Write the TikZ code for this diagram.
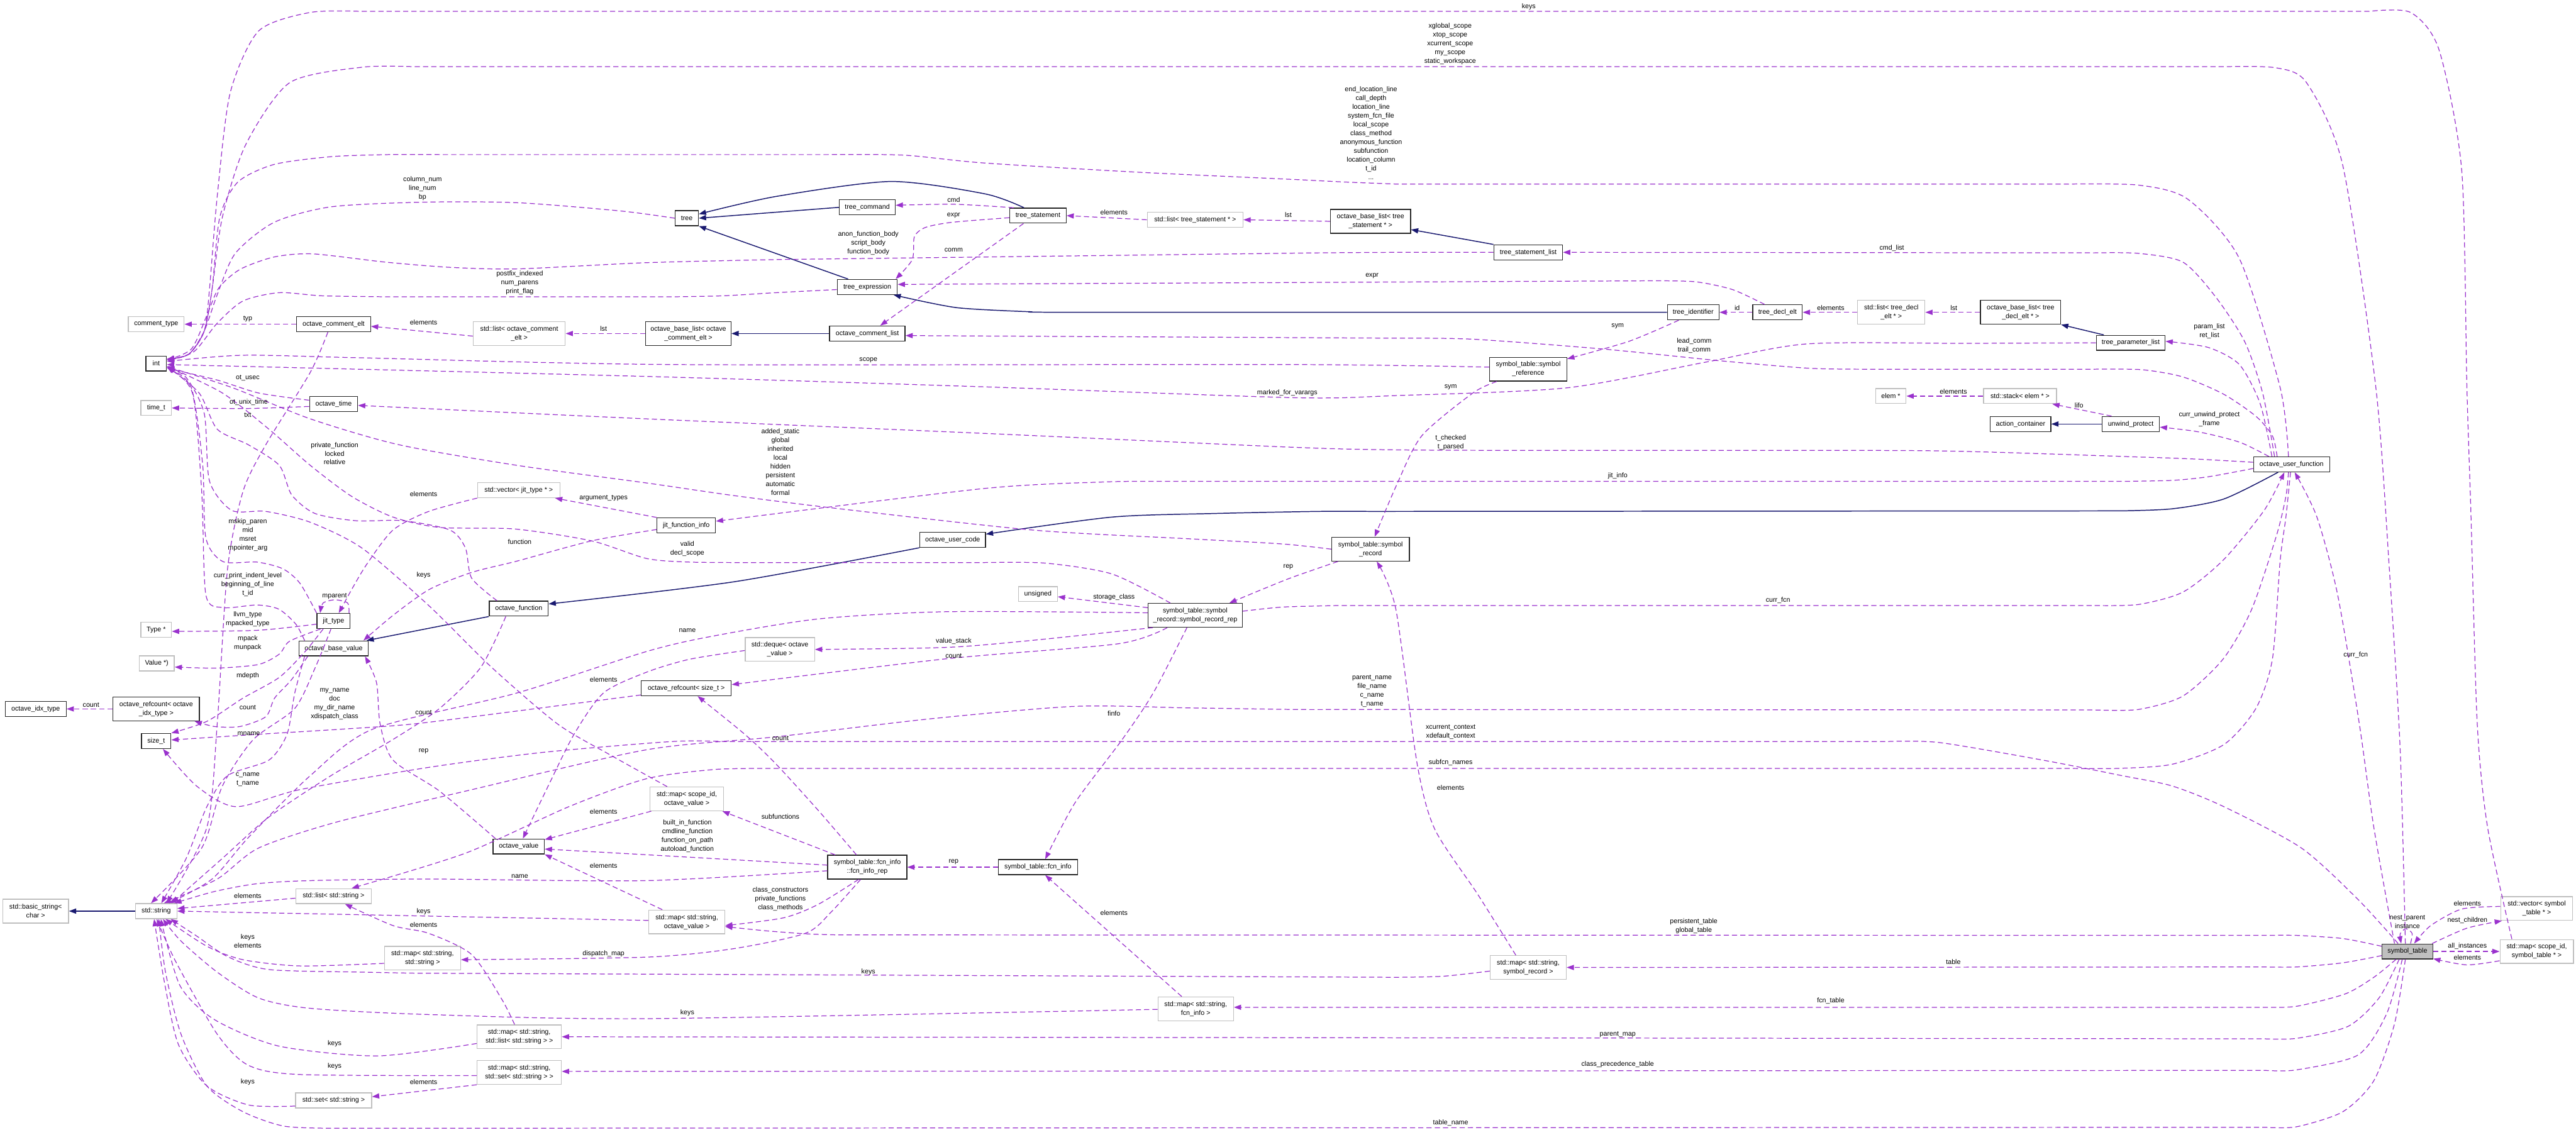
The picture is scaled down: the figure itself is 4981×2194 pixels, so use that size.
\documentclass[tikz,border=0pt]{standalone}
\usepackage{fontspec}
\newfontfamily\nf{Liberation Sans}
\usetikzlibrary{arrows.meta}
\definecolor{dcol}{HTML}{9A32CD}
\definecolor{bcol}{HTML}{191970}
\definecolor{gcol}{HTML}{BFBFBF}
\newcommand\nff{\nf\fontsize{13pt}{17pt}\selectfont}
\tikzset{
 bk/.style={draw=black!85, line width=1.6pt, fill=white, minimum height=29pt, inner xsep=2pt, inner ysep=3pt, align=center, font=\nff},
 gy/.style={bk, draw=gcol},
 two/.style={minimum height=46pt},
 mainn/.style={bk, fill=gcol, draw=black!80},
 dep/.style={draw=dcol, line width=1.5pt, dash pattern=on 10pt off 6pt, -{Triangle[length=14pt,width=10pt]}},
 inh/.style={draw=bcol, line width=1.8pt, -{Triangle[length=14pt,width=10pt]}},
 lb/.style={font=\nff, align=center, inner sep=0pt},
 sm/.style={smooth, tension=0.45},
}
\begin{document}
\begin{tikzpicture}[x=1pt,y=-1pt]
\fill[white] (0,0) rectangle (4981,2194);
\useasboundingbox (0,0) rectangle (4981,2194);
% ---------------- nodes
\node[gy,minimum width=108pt] (comtype) at (302,627) {comment\_type};
\node[bk,minimum width=143pt] (comelt) at (645,627) {octave\_comment\_elt};
\node[gy,two,minimum width=178pt] (listcomelt) at (1004,645) {std::list< octave\_comment\\\_elt >};
\node[bk,two,minimum width=165pt] (baselistcom) at (1331,645) {octave\_base\_list< octave\\\_comment\_elt >};
\node[bk,minimum width=146pt] (comlist) at (1677,645) {octave\_comment\_list};
\node[bk,minimum width=40pt] (int) at (302,703) {int};
\node[gy,minimum width=59pt] (timet) at (302,789) {time\_t};
\node[bk,minimum width=93pt] (otime) at (645,781) {octave\_time};
\node[gy,minimum width=159pt] (vecjit) at (1003,948) {std::vector< jit\_type * >};
\node[bk,minimum width=113pt] (jitfi) at (1327,1016) {jit\_function\_info};
\node[bk,minimum width=114pt] (octfun) at (1003,1177) {octave\_function};
\node[bk,minimum width=64pt] (jittype) at (645,1201) {jit\_type};
\node[gy,minimum width=59pt] (typestar) at (302,1218) {Type *};
\node[bk,minimum width=134pt] (basevalue) at (645,1254) {octave\_base\_value};
\node[gy,minimum width=68pt] (valuestar) at (303,1283) {Value *)};
\node[bk,minimum width=118pt] (idxtype) at (69,1371) {octave\_idx\_type};
\node[bk,two,minimum width=167pt] (refidx) at (302,1371) {octave\_refcount< octave\\\_idx\_type >};
\node[bk,minimum width=174pt] (refsize) at (1327,1331) {octave\_refcount< size\_t >};
\node[bk,minimum width=57pt] (sizet) at (302,1433) {size\_t};
\node[bk,minimum width=99pt] (octvalue) at (1003,1637) {octave\_value};
\node[gy,two,minimum width=142pt] (mapscopeov) at (1328,1545) {std::map< scope\_id,\\octave\_value >};
\node[bk,two,minimum width=153pt] (fcninforep) at (1677,1677) {symbol\_table::fcn\_info\\::fcn\_info\_rep};
\node[bk,minimum width=153pt] (fcninfo) at (2007,1677) {symbol\_table::fcn\_info};
\node[gy,two,minimum width=147pt] (mapstrov) at (1328,1783) {std::map< std::string,\\octave\_value >};
\node[gy,minimum width=146pt] (liststr) at (645,1733) {std::list< std::string >};
\node[gy,two,minimum width=127pt] (basicstr) at (69,1762) {std::basic\_string<\\char >};
\node[gy,minimum width=80pt] (stdstr) at (302,1762) {std::string};
\node[gy,two,minimum width=147pt] (mapstrstr) at (817,1853) {std::map< std::string,\\std::string >};
\node[gy,two,minimum width=163pt] (mapstrlist) at (1004,2005) {std::map< std::string,\\std::list< std::string > >};
\node[gy,two,minimum width=163pt] (mapstrset) at (1004,2074) {std::map< std::string,\\std::set< std::string > >};
\node[gy,minimum width=147pt] (setstr) at (645,2128) {std::set< std::string >};
\node[gy,two,minimum width=146pt] (mapstrfcn) at (2312,1951) {std::map< std::string,\\fcn\_info >};
\node[gy,two,minimum width=147pt] (mapstrrec) at (2955,1871) {std::map< std::string,\\symbol\_record >};
\node[bk,minimum width=45pt] (tree) at (1328,422) {tree};
\node[bk,minimum width=108pt] (treecmd) at (1677,401) {tree\_command};
\node[bk,minimum width=109pt] (treestmt) at (2007,417) {tree\_statement};
\node[gy,minimum width=185pt] (liststmt) at (2311,425) {std::list< tree\_statement * >};
\node[bk,minimum width=116pt] (treeexpr) at (1677,555) {tree\_expression};
\node[bk,two,minimum width=155pt] (baseliststmt) at (2650,428) {octave\_base\_list< tree\\\_statement * >};
\node[bk,minimum width=133pt] (stmtlist) at (2955,488) {tree\_statement\_list};
\node[bk,minimum width=100pt] (treeid) at (3274,604) {tree\_identifier};
\node[bk,minimum width=96pt] (declelt) at (3437,604) {tree\_decl\_elt};
\node[gy,two,minimum width=130pt] (listdecl) at (3657,604) {std::list< tree\_decl\\\_elt * >};
\node[bk,two,minimum width=155pt] (baselistdecl) at (3907,604) {octave\_base\_list< tree\\\_decl\_elt * >};
\node[bk,minimum width=133pt] (paramlist) at (4120,663) {tree\_parameter\_list};
\node[bk,two,minimum width=149pt] (symref) at (2955,714) {symbol\_table::symbol\\\_reference};
\node[gy,minimum width=59pt] (elem) at (3656,766) {elem *};
\node[gy,minimum width=141pt] (stackelem) at (3906,766) {std::stack< elem * >};
\node[bk,minimum width=117pt] (actcont) at (3907,820) {action\_container};
\node[bk,minimum width=111pt] (unwind) at (4120,820) {unwind\_protect};
\node[bk,minimum width=147pt] (userfun) at (4431,898) {octave\_user\_function};
\node[bk,minimum width=127pt] (usercode) at (1842,1044) {octave\_user\_code};
\node[gy,minimum width=75pt] (unsigned) at (2007,1149) {unsigned};
\node[bk,two,minimum width=150pt] (symrec) at (2650,1062) {symbol\_table::symbol\\\_record};
\node[bk,two,minimum width=182pt] (recrep) at (2311,1190) {symbol\_table::symbol\\\_record::symbol\_record\_rep};
\node[gy,two,minimum width=134pt] (deque) at (1508,1256) {std::deque< octave\\\_value >};
\node[mainn,minimum width=98pt] (symtab) at (4655,1840) {symbol\_table};
\node[gy,two,minimum width=139pt] (vecsymtab) at (4905,1757) {std::vector< symbol\\\_table * >};
\node[gy,two,minimum width=142pt] (mapscopesymtab) at (4905,1840) {std::map< scope\_id,\\symbol\_table * >};
% ---------------- inheritance
\draw[inh] (treecmd.west) -- (tree.east);
\draw[inh] plot[sm] coordinates {([xshift=-27pt]treestmt.north) (1905,375) (1722,351) (1500,380) ([yshift=8pt]tree.east)};
\draw[inh] ([xshift=-37pt]treeexpr.north) -- (tree.south east);
\draw[inh] plot[sm] coordinates {(treeid.west) (2100,604) (1996,603)} -- plot[sm] coordinates {(1996,603) (1850,595) ([xshift=-8pt]treeexpr.south east)};
\draw[inh] (comlist.west) -- (baselistcom.east);
\draw[inh] (stmtlist.north west) -- ([yshift=-16pt]baseliststmt.east);
\draw[inh] ([xshift=-52pt]paramlist.north) -- (baselistdecl.south east);
\draw[inh] (unwind.west) -- (actcont.east);
\draw[inh] plot[sm] coordinates {([xshift=-26pt]userfun.south) (4300,965) (4200,984) (4100,988)} -- plot[sm] coordinates {(2650,989) (2550,989) (2350,993) (2150,1000) ([yshift=11pt]usercode.east)};
\draw[inh] plot[sm] coordinates {(usercode.south west) (1420,1125) ([yshift=9pt]octfun.east)};
\draw[inh] (octfun.south west) -- ([xshift=-4pt]basevalue.north east);
\draw[inh] (stdstr.west) -- (basicstr.east);
% ---------------- dependencies into int
\draw[dep] plot[sm] coordinates {(tree.west) (1200,408) (1000,392) (817,391) (640,400) (530,430) (455,490) (420,570) (395,640) (365,685) ([yshift=7pt]int.east)};
\draw[dep] plot[sm] coordinates {([yshift=-5pt]treeexpr.west) (1500,566) (1400,572) (1300,574)} -- plot[sm] coordinates {(750,574) (622,572) (540,566) (470,582) (420,625) (375,680) ([yshift=6pt]int.east)};
\draw[dep] plot[sm] coordinates {([xshift=-4pt]symtab.north) (4641,1450) (4620,1100) (4594,750) (4530,320) (4460,160) (4400,131) (4300,129)} -- plot[sm] coordinates {(800,129) (700,130) (560,160) (475,280) (430,420) (410,560) (395,640) (365,685) ([yshift=8pt]int.east)};
\draw[dep] plot[sm] coordinates {([xshift=-48pt]mapscopesymtab.north) (4810,1600) (4790,1400) (4778,1000) (4770,750) (4760,330) (4716,96) (4661,24) (4580,22)} -- plot[sm] coordinates {(700,22) (600,24) (500,60) (445,180) (420,380) (405,560) (395,640) (365,685) ([yshift=9pt]int.east)};
\draw[dep] plot[sm] coordinates {([xshift=-6pt]userfun.north) (4409,750) (4330,500) (4230,385) (4135,358) (4000,356)} -- plot[sm] coordinates {(2700,356) (2600,352) (2500,347) (2200,333) (1900,315) (1747,300) (1600,299)} -- plot[sm] coordinates {(850,299) (750,299) (640,303) (530,318) (460,352) (425,420) (410,560) (395,640) (365,685) ([yshift=8pt]int.east)};
\draw[dep] plot[sm] coordinates {([yshift=4pt]symref.west) (2500,705) (1300,705) (700,692) (470,687) ([yshift=4pt]int.east)};
\draw[dep] plot[sm] coordinates {(paramlist.west) (3800,664) (3495,665) (3300,700) (3030,750) (2700,765) (2500,769) (1900,748) (1250,728) ([yshift=-2pt]int.east)};
\draw[dep] plot[sm] coordinates {(stmtlist.west) (2700,488) (2550,489)} -- plot[sm] coordinates {(1500,502) (1250,508) (1000,520) (870,517) (746,507) (605,491) (530,497) (464,521) (423,557) (400,610) (370,675) ([yshift=7pt]int.east)};
\draw[dep] plot[sm] coordinates {([xshift=-38pt]mapscopeov.north) (1180,1460) (1078,1400) (950,1290) (829,1171) (700,1060) (600,1010) (514,989) (448,987) (405,930) (395,800) (360,730) ([yshift=-7pt]int.east)};
\draw[dep] plot[sm] coordinates {(jittype.north west) (580,1128) (547,1100) (497,1087) (431,1086) (398,1040) (392,900) (370,750) ([yshift=-7pt]int.east)};
\draw[dep] plot[sm] coordinates {([xshift=-56pt]basevalue.north) (572,1207) (539,1178) (497,1170) (431,1175) (398,1150) (390,950) (372,760) ([yshift=-8pt]int.east)};
\draw[dep] plot[sm] coordinates {([xshift=-42pt]octfun.north) (912,1118) (900,1060) (870,1025) (779,1007) (688,1007) (609,993) (564,957) (540,900) (480,860) (420,830) (385,760) ([yshift=-6pt]int.east)};
\draw[dep] plot[sm] coordinates {(symrec.west) (2480,1052) (2300,1042) (1996,1025) (1607,982) (1416,958) (1250,934) (1000,900) (771,860) (600,810) (450,750) ([yshift=-6pt]int.east)};
\draw[dep] plot[sm] coordinates {([xshift=-48pt]recrep.north) (2150,1110) (2021,1089) (1900,1088)} -- plot[sm] coordinates {(1450,1088) (1333,1087) (1250,1080) (1144,1046) (995,1023) (850,1020) (760,1000) (680,960) (600,900) (520,830) (430,760) ([yshift=-5pt]int.east)};
\draw[dep] plot[sm] coordinates {([yshift=7pt]otime.west) (500,760) (420,735) ([yshift=-9pt]int.east)};
% ---------------- other dependencies
\draw[dep] plot[sm] coordinates {([yshift=-5pt]otime.west) (480,790) (timet.east)};
\draw[dep] (comelt.west) -- (comtype.east);
\draw[dep] plot[sm] coordinates {([xshift=-11pt]comelt.south) (600,720) (514,860) (470,950) (440,1100) (420,1400) (400,1600) ([xshift=20pt]stdstr.north)};
\draw[dep] ([yshift=-5pt]listcomelt.west) -- ([yshift=-4pt]comelt.east);
\draw[dep] (baselistcom.west) -- (listcomelt.east);
\draw[dep] plot[sm] coordinates {([xshift=-47pt]treestmt.north) (1845,395) ([yshift=4pt]treecmd.east)};
\draw[dep] plot[sm] coordinates {([yshift=-4pt]treestmt.west) (1840,430) (1789,440) (1768,458) (1764,502) ([xshift=-4pt]treeexpr.north east)};
\draw[dep] ([xshift=-28pt]treestmt.south) -- ([xshift=25pt]comlist.north);
\draw[dep] (liststmt.west) -- (treestmt.east);
\draw[dep] (baseliststmt.west) -- (liststmt.east);
\draw[dep] plot[sm] coordinates {([xshift=-33pt]userfun.north) (4375,760) (4340,660) (4284,574) (4221,507) (4135,490) (4050,489)} -- (stmtlist.east);
\draw[dep] plot[sm] coordinates {([xshift=-38pt]userfun.north) (4370,780) (4330,705) (4270,672) ([yshift=3pt]paramlist.east)};
\draw[dep] plot[sm] coordinates {([xshift=-44pt]userfun.north) (4330,855) (4250,835) ([yshift=-6pt]unwind.east)};
\draw[dep] plot[sm] coordinates {([xshift=-28pt]userfun.north) (4394,843) (4362,805) (4299,762) (4221,729) (4142,715) (4050,714)} -- plot[sm] coordinates {(3600,714) (3495,712) (3329,698) (3100,675) (2848,656) (2700,654)} -- ([yshift=-4pt]comlist.east);
\draw[dep] plot[sm] coordinates {([yshift=4pt]userfun.west) (4250,888) (4142,884) (3750,872) (3300,871) (2932,871) (2700,870) (2500,865) (1900,838) (1250,810) ([yshift=-3pt]otime.east)};
\draw[dep] plot[sm] coordinates {([yshift=-8pt]userfun.west) (4270,922) (4200,929) (4100,931)} -- plot[sm] coordinates {(2250,931) (2137,932) (1900,945) ([yshift=8pt]jitfi.east)};
\draw[dep] plot[sm] coordinates {([xshift=-6pt]userfun.south) (4420,960) (4402,1035) (4354,1178) (4299,1274) (4221,1346) (4135,1372) (4050,1373)} -- plot[sm] coordinates {(2600,1372) (2500,1372) (2300,1369) (2079,1366) (1800,1390) (1500,1425) (1250,1450) (900,1530) (650,1590) (500,1640) (420,1700) ([xshift=15pt]stdstr.north)};
\draw[dep] plot[sm] coordinates {([xshift=-2pt]userfun.south) (4420,1000) (4409,1083) (4394,1274) (4362,1370) (4300,1440) (4200,1478) (4095,1486) (4000,1486)} -- plot[sm] coordinates {(1500,1486) (1383,1488) (1250,1506) (1100,1560) (900,1650) ([xshift=35pt]liststr.north)};
\draw[dep] plot[sm] coordinates {([yshift=8pt]recrep.east) (2480,1174) (2591,1171)} -- plot[sm] coordinates {(4050,1171) (4135,1169) (4221,1145) (4299,1083) (4378,987) ([xshift=-14pt]userfun.south)};
\draw[dep] plot[sm] coordinates {([xshift=-25pt]symtab.north) (4590,1600) (4562,1400) (4520,1150) (4480,1000) ([xshift=6pt]userfun.south)};
\draw[dep] plot[sm] coordinates {([xshift=-18pt]symtab.north) (4560,1740) (4450,1640) (4300,1560) (4200,1520) (4103,1500) (3950,1470) (3750,1436) (3650,1434)} -- plot[sm] coordinates {(1400,1434) (1300,1434) (1050,1455) (829,1484) (580,1527) (456,1560) (380,1520) ([xshift=13pt]sizet.south)};
\draw[dep] plot[sm] coordinates {([yshift=10pt]symtab.west) (4530,1815) (4441,1809) (4380,1809)} -- plot[sm] coordinates {(1620,1808) (1560,1806) (1480,1800) ([yshift=-9pt]mapstrov.east)};
\draw[dep] plot[sm] coordinates {([yshift=-8pt]symtab.west) (4530,1862) (4441,1870) (4380,1870)} -- (mapstrrec.east);
\draw[dep] plot[sm] coordinates {([xshift=-22pt]symtab.south) (4590,1890) (4535,1922) (4441,1946) (4380,1948)} -- ([yshift=3pt]mapstrfcn.east);
\draw[dep] plot[sm] coordinates {([xshift=-16pt]symtab.south) (4600,1930) (4540,1985) (4441,2008) (4380,2009)} -- (mapstrlist.east);
\draw[dep] plot[sm] coordinates {([xshift=-10pt]symtab.south) (4615,1960) (4560,2040) (4441,2069) (4380,2070)} -- ([yshift=2pt]mapstrset.east);
\draw[dep] plot[sm] coordinates {([xshift=-4pt]symtab.south) (4630,1980) (4590,2090) (4530,2150) (4441,2179) (4380,2180)} -- plot[sm] coordinates {(650,2182) (550,2178) (470,2150) (400,2100) (350,2000) (320,1880) ([xshift=5pt]stdstr.south)};
\draw[dep] plot[sm] coordinates {([xshift=6pt]symtab.north) (4664,1805) (4652,1796) (4641,1806) ([xshift=-12pt]symtab.north)};
\draw[dep] plot[sm] coordinates {([xshift=-2pt]symtab.north east) (4770,1795) ([xshift=3pt]vecsymtab.south west)};
\draw[dep] plot[sm] coordinates {([yshift=4pt]vecsymtab.west) (4760,1758) (4700,1790) ([xshift=13pt]symtab.north)};
\draw[dep] (symtab.east) -- (mapscopesymtab.west);
\draw[dep] plot[sm] coordinates {([yshift=-18pt]mapscopesymtab.west) (4770,1866) ([yshift=-14pt]symtab.east)};
\draw[dep] plot[sm] coordinates {([xshift=-24pt]mapstrrec.north) (2857,1729) (2774,1603) (2740,1476) (2699,1178) ([xshift=12pt]symrec.south)};
\draw[dep] plot[sm] coordinates {([yshift=-7pt]mapstrrec.west) (2790,1888) (2700,1890)} -- plot[sm] coordinates {(800,1882) (700,1880) (520,1875) (440,1850) (380,1810) ([xshift=28pt]stdstr.south)};
\draw[dep] plot[sm] coordinates {([xshift=-61pt]symref.south) (2848,760) (2749,843) (2700,939) ([xshift=8pt]symrec.north)};
\draw[dep] plot[sm] coordinates {([xshift=-28pt]treeid.south) (3150,660) ([yshift=20pt]symref.east)};
\draw[dep] (declelt.west) -- (treeid.east);
\draw[dep] plot[sm] coordinates {([xshift=-25pt]declelt.north) (3350,560) (3279,545) (3200,543)} -- ([yshift=5pt]treeexpr.east);
\draw[dep] (listdecl.west) -- (declelt.east);
\draw[dep] (baselistdecl.west) -- (listdecl.east);
\draw[dep] (stackelem.west) -- (elem.east);
\draw[dep] ([xshift=-37pt]unwind.north) -- ([xshift=-9pt]stackelem.south east);
\draw[dep] plot[sm] coordinates {([xshift=-63pt]symrec.south) (2500,1116) (2440,1140) ([xshift=66pt]recrep.north)};
\draw[dep] ([yshift=-9pt]recrep.north west) -- ([yshift=-5pt]unsigned.east);
\draw[dep] plot[sm] coordinates {([yshift=5pt]recrep.west) (1830,1183) (1582,1197) (1374,1231) (1250,1260) (1000,1340) (721,1410) (600,1500) (480,1620) (410,1700) ([xshift=25pt]stdstr.north)};
\draw[dep] plot[sm] coordinates {([xshift=-82pt]recrep.south) (2000,1238) (1830,1252) (deque.east)};
\draw[dep] plot[sm] coordinates {([xshift=-54pt]recrep.south) (2162,1245) (1830,1274) ([yshift=7pt]refsize.east)};
\draw[dep] plot[sm] coordinates {([xshift=-16pt]recrep.south) (2230,1340) (2170,1430) (2079,1552) ([xshift=14pt]fcninfo.north)};
\draw[dep] plot[sm] coordinates {([yshift=-2pt]deque.west) (1333,1275) (1250,1300) (1167,1340) (1110,1420) (1060,1520) ([xshift=8pt]octvalue.north)};
\draw[dep] plot[sm] coordinates {([xshift=-45pt]octvalue.north) (850,1530) (760,1470) (735,1400) (728,1320) ([xshift=-7pt]basevalue.south east)};
\draw[dep] ([xshift=3pt]mapscopeov.south west) -- ([yshift=-2pt]octvalue.north east);
\draw[dep] ([xshift=27pt]mapstrov.north west) -- (octvalue.south east);
\draw[dep] ([yshift=3pt]mapstrov.west) -- (stdstr.east);
\draw[dep] plot[sm] coordinates {([yshift=4pt]fcninforep.west) (1250,1653) ([yshift=-5pt]octvalue.east)};
\draw[dep] ([xshift=-62pt]fcninforep.north) -- ([xshift=-3pt]mapscopeov.south east);
\draw[dep] plot[sm] coordinates {([xshift=-17pt]fcninforep.south) (1582,1749) (1515,1775) ([yshift=-7pt]mapstrov.east)};
\draw[dep] plot[sm] coordinates {([xshift=-13pt]fcninforep.south) (1606,1765) (1557,1805) (1416,1835) (1250,1851) ([yshift=-3pt]mapstrstr.east)};
\draw[dep] plot[sm] coordinates {([yshift=-7pt]fcninforep.west) (1250,1703) (829,1700) (600,1703) (497,1709) (415,1724) ([xshift=35pt]stdstr.north)};
\draw[dep] plot[sm] coordinates {([xshift=-21pt]fcninforep.north) (1582,1567) (1499,1476) (1440,1420) ([xshift=22pt]refsize.south)};
\draw[dep] (fcninfo.west) -- (fcninforep.east);
\draw[dep] ([xshift=-27pt]mapstrfcn.north) -- ([xshift=14pt]fcninfo.south);
\draw[dep] plot[sm] coordinates {([yshift=-1pt]mapstrfcn.west) (1250,1970) (829,1962) (600,1950) (500,1930) (420,1880) (350,1820) ([xshift=13pt]stdstr.south)};
\draw[dep] plot[sm] coordinates {([yshift=-13pt]mapstrlist.west) (730,2042) (539,2023) (415,1972) (348,1906) ([xshift=9pt]stdstr.south)};
\draw[dep] plot[sm] coordinates {([xshift=-9pt]mapstrlist.north) (970,1932) (912,1846) (829,1805) (760,1790) ([xshift=22pt]liststr.south)};
\draw[dep] plot[sm] coordinates {([yshift=-6pt]mapstrset.west) (580,2078) (480,2060) (420,2000) (340,1860) ([xshift=1pt]stdstr.south)};
\draw[dep] (mapstrset.south west) -- ([yshift=7pt]setstr.east);
\draw[dep] plot[sm] coordinates {([yshift=-11pt]setstr.west) (481,2137) (400,2100) (345,2020) (318,1900) ([xshift=-4pt]stdstr.south)};
\draw[dep] ([yshift=-4pt]liststr.west) -- ([yshift=5pt]stdstr.east);
\draw[dep] plot[sm] coordinates {([yshift=-10pt]mapstrstr.west) (580,1868) (470,1856) (400,1830) ([xshift=18pt]stdstr.south)};
\draw[dep] plot[sm] coordinates {([xshift=-56pt]basevalue.south) (570,1340) (555,1420) (520,1470) (440,1500) (400,1560) (360,1660) ([xshift=10pt]stdstr.north)};
\draw[dep] plot[sm] coordinates {([xshift=-25pt]octfun.south) (930,1290) (850,1370) (760,1430) (640,1500) (520,1580) (430,1660) ([xshift=30pt]stdstr.north)};
\draw[dep] plot[sm] coordinates {([xshift=-50pt]basevalue.south) (564,1314) (531,1350) (514,1386) (464,1405) (415,1405) ([xshift=-10pt]refidx.south east)};
\draw[dep] (refidx.west) -- (idxtype.east);
\draw[dep] plot[sm] coordinates {([yshift=-6pt]jittype.west) (497,1219) ([yshift=-3pt]typestar.east)};
\draw[dep] plot[sm] coordinates {([xshift=-25pt]jittype.south) (560,1240) (540,1265) (500,1285) (420,1292) ([yshift=-7pt]valuestar.east)};
\draw[dep] plot[sm] coordinates {([xshift=30pt]jittype.north) (672,1166) (648,1160) (625,1166) ([xshift=-26pt]jittype.north)};
\draw[dep] plot[sm] coordinates {([xshift=-20pt]jittype.south) (590,1260) (540,1310) (470,1350) (400,1395) (sizet.north east)};
\draw[dep] plot[sm] coordinates {([xshift=-5pt]jittype.south) (610,1290) (570,1370) (490,1430) (430,1520) (390,1640) ([xshift=-10pt]stdstr.north)};
\draw[dep] plot[sm] coordinates {([yshift=-13pt]refsize.west) (1000,1375) (800,1400) (663,1410) (500,1420) ([yshift=2pt]sizet.east)};
\draw[dep] (jitfi.north west) -- ([xshift=-10pt]vecjit.south east);
\draw[dep] plot[sm] coordinates {(vecjit.south west) (829,989) (760,1025) (710,1090) (680,1140) ([xshift=10pt]jittype.north)};
\draw[dep] plot[sm] coordinates {([yshift=-8pt]jitfi.west) (1144,1046) (1000,1085) (912,1107) (830,1140) (760,1190) ([xshift=-10pt]basevalue.north east)};
% ---------------- labels
\node[lb] (la1) at (817,365) {column\_num\\line\_num\\bp};
\node[lb] (la2) at (1005,547) {postfix\_indexed\\num\_parens\\print\_flag};
\node[lb] (la3) at (479,617) {typ};
\node[lb] (la4) at (819,624) {elements};
\node[lb] (la5) at (1167,636) {lst};
\node[lb] (la6) at (479,731) {ot\_usec};
\node[lb] (la7) at (481,778) {ot\_unix\_time};
\node[lb] (la8) at (479,803) {txt};
\node[lb] (la9) at (647,877) {private\_function\\locked\\relative};
\node[lb] (la10) at (819,956) {elements};
\node[lb] (la11) at (1167,963) {argument\_types};
\node[lb] (la12) at (479,1034) {mskip\_paren\\mid\\msret\\mpointer\_arg};
\node[lb] (la13) at (1005,1048) {function};
\node[lb] (la14) at (479,1130) {curr\_print\_indent\_level\\beginning\_of\_line\\t\_id};
\node[lb] (la15) at (819,1112) {keys};
\node[lb] (la16) at (647,1153) {mparent};
\node[lb] (la17) at (479,1198) {llvm\_type\\mpacked\_type};
\node[lb] (la18) at (479,1244) {mpack\\munpack};
\node[lb] (la19) at (479,1307) {mdepth};
\node[lb] (la20) at (647,1362) {my\_name\\doc\\my\_dir\_name\\xdispatch\_class};
\node[lb] (la21) at (479,1368) {count};
\node[lb] (la22) at (819,1378) {count};
\node[lb] (la23) at (1167,1314) {elements};
\node[lb] (la24) at (176,1363) {count};
\node[lb] (la25) at (481,1419) {mname};
\node[lb] (la26) at (819,1453) {rep};
\node[lb] (la27) at (479,1507) {c\_name\\t\_name};
\node[lb] (la28) at (1167,1569) {elements};
\node[lb] (la29) at (1167,1674) {elements};
\node[lb] (la30) at (1005,1695) {name};
\node[lb] (la31) at (479,1733) {elements};
\node[lb] (la32) at (819,1763) {keys};
\node[lb] (la33) at (819,1788) {elements};
\node[lb] (la34) at (479,1820) {keys\\elements};
\node[lb] (la35) at (1167,1844) {dispatch\_map};
\node[lb] (la36) at (647,2018) {keys};
\node[lb] (la37) at (647,2062) {keys};
\node[lb] (la38) at (479,2092) {keys};
\node[lb] (la39) at (819,2092) {elements};
\node[lb] (la40) at (1844,386) {cmd};
\node[lb] (la41) at (1844,417) {expr};
\node[lb] (la42) at (2154,411) {elements};
\node[lb] (la43) at (2491,416) {lst};
\node[lb] (la44) at (1679,470) {anon\_function\_body\\script\_body\\function\_body};
\node[lb] (la45) at (1844,483) {comm};
\node[lb] (la46) at (1679,696) {scope};
\node[lb] (la47) at (2956,13) {keys};
\node[lb] (la48) at (2804,85) {xglobal\_scope\\xtop\_scope\\xcurrent\_scope\\my\_scope\\static\_workspace};
\node[lb] (la49) at (2651,257) {end\_location\_line\\call\_depth\\location\_line\\system\_fcn\_file\\local\_scope\\class\_method\\anonymous\_function\\subfunction\\location\_column\\t\_id\\...};
\node[lb] (la50) at (3658,480) {cmd\_list};
\node[lb] (la51) at (2653,533) {expr};
\node[lb] (la52) at (3359,595) {id};
\node[lb] (la53) at (3540,595) {elements};
\node[lb] (la54) at (3778,595) {lst};
\node[lb] (la55) at (3128,631) {sym};
\node[lb] (la56) at (3276,668) {lead\_comm\\trail\_comm};
\node[lb] (la57) at (2805,749) {sym};
\node[lb] (la58) at (2489,760) {marked\_for\_varargs};
\node[lb] (la59) at (3777,757) {elements};
\node[lb] (la60) at (2805,856) {t\_checked\\t\_parsed};
\node[lb] (la61) at (3128,920) {jit\_info};
\node[lb] (la62) at (4020,784) {lifo};
\node[lb] (la63) at (4272,811) {curr\_unwind\_protect\\\_frame};
\node[lb] (la64) at (4272,640) {param\_list\\ret\_list};
\node[lb] (la65) at (1509,893) {added\_static\\global\\inherited\\local\\hidden\\persistent\\automatic\\formal};
\node[lb] (la66) at (1329,1061) {valid\\decl\_scope};
\node[lb] (la67) at (2491,1096) {rep};
\node[lb] (la68) at (2154,1155) {storage\_class};
\node[lb] (la69) at (3438,1161) {curr\_fcn};
\node[lb] (la70) at (1329,1219) {name};
\node[lb] (la71) at (1844,1240) {value\_stack};
\node[lb] (la72) at (1844,1268) {count};
\node[lb] (la73) at (4555,1267) {curr\_fcn};
\node[lb] (la74) at (2653,1337) {parent\_name\\file\_name\\c\_name\\t\_name};
\node[lb] (la75) at (2154,1380) {finfo};
\node[lb] (la76) at (2805,1416) {xcurrent\_context\\xdefault\_context};
\node[lb] (la77) at (1509,1428) {count};
\node[lb] (la78) at (2805,1475) {subfcn\_names};
\node[lb] (la79) at (2805,1523) {elements};
\node[lb] (la80) at (1509,1579) {subfunctions};
\node[lb] (la81) at (1329,1617) {built\_in\_function\\cmdline\_function\\function\_on\_path\\autoload\_function};
\node[lb] (la82) at (1844,1667) {rep};
\node[lb] (la83) at (1509,1738) {class\_constructors\\private\_functions\\class\_methods};
\node[lb] (la84) at (2154,1765) {elements};
\node[lb] (la85) at (3275,1791) {persistent\_table\\global\_table};
\node[lb] (la86) at (3777,1860) {table};
\node[lb] (la87) at (1679,1880) {keys};
\node[lb] (la88) at (3540,1935) {fcn\_table};
\node[lb] (la89) at (1329,1959) {keys};
\node[lb] (la90) at (3128,2001) {parent\_map};
\node[lb] (la91) at (3128,2058) {class\_precedence\_table};
\node[lb] (la92) at (2805,2171) {table\_name};
\node[lb] (la93) at (4771,1747) {elements};
\node[lb] (la94) at (4655,1783) {nest\_parent\\instance};
\node[lb] (la95) at (4771,1780) {nest\_children};
\node[lb] (la96) at (4771,1830) {all\_instances};
\node[lb] (la97) at (4771,1852) {elements};
\end{tikzpicture}
\end{document}
